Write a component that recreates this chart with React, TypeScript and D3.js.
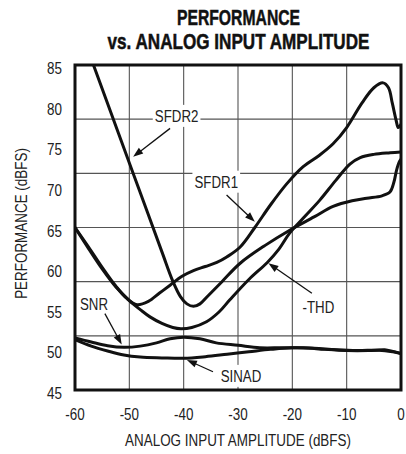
import React from 'react';
import * as d3 from 'd3';

// ---------- data ----------
const ampTicks = [-60, -50, -40, -30, -20, -10, 0];
const perfTicks = [45, 50, 55, 60, 65, 70, 75, 80, 85];

const sfdr1Amp = [-60, -57.5, -55, -52.5, -50.5, -48.6, -46.5, -44.5, -42.5, -40.3, -38.2, -36, -33.9, -32, -29.6, -26.9, -24, -21, -18, -15, -12.5, -10, -7.2, -5, -3.3, -2.3, -1.6, -0.9, -0.5, 0];
const sfdr1Val = [65, 62.6, 60.1, 57.8, 56.3, 55.5, 55.9, 56.9, 57.9, 59.0, 59.7, 60.2, 60.7, 61.4, 62.6, 65.0, 67.8, 70.4, 72.5, 73.9, 75.3, 77.3, 80.3, 82.2, 82.8, 82.2, 80.3, 78.2, 77.3, 77.7];

const sfdr2Amp = [-56.6, -52, -48, -44, -42, -40.6, -39.4, -38.2, -37, -35.5, -33, -29.6, -25, -20.4, -16, -12.5, -9, -6.3, -3.5, -2, -1.3, -0.8, -0.3, 0];
const sfdr2Val = [85, 76.6, 69.3, 62.0, 58.4, 56.5, 55.6, 55.3, 55.6, 56.6, 58.3, 60.6, 62.8, 64.7, 66.3, 67.6, 68.3, 68.6, 68.9, 69.4, 70.6, 72.1, 73.1, 73.4];

const thdAmp = [-60, -57.5, -55, -52.5, -50, -48, -46.2, -44, -42, -40.5, -38.5, -35.8, -33.5, -31.5, -28, -24.6, -22.5, -20.5, -17.5, -14.9, -12, -9.4, -7.5, -5, -2, 0];
const thdVal = [65, 62.4, 59.9, 57.7, 56.0, 54.9, 54.0, 53.2, 52.7, 52.55, 52.7, 53.4, 54.6, 56.1, 58.6, 60.7, 62.3, 64.3, 66.5, 68.4, 70.8, 72.8, 73.6, 74.0, 74.2, 74.3];

const snrAmp = [-60, -57, -54, -51, -48, -45, -42.5, -40, -37, -34, -30, -26, -22, -18, -14, -10, -6, -3, -1.5, 0];
const snrVal = [51.4, 50.9, 50.45, 50.25, 50.4, 50.8, 51.3, 51.5, 51.3, 50.8, 50.5, 50.2, 50.2, 50.2, 50.0, 49.85, 49.85, 49.95, 49.75, 49.5];

const sinadAmp = [-60, -57, -54, -51, -48, -44, -40, -36, -32, -28, -24, -20, -16, -12, -8, -4, -1.5, 0];
const sinadVal = [51.2, 50.4, 49.8, 49.3, 49.05, 48.95, 48.9, 49.1, 49.4, 49.7, 50.0, 50.2, 50.15, 49.95, 49.85, 49.9, 49.7, 49.5];

const seriesNames = ['SFDR1', 'SFDR2', '-THD', 'SNR', 'SINAD'];
const seriesAmps = [sfdr1Amp, sfdr2Amp, thdAmp, snrAmp, sinadAmp];
const seriesVals = [sfdr1Val, sfdr2Val, thdVal, snrVal, sinadVal];

// annotation labels (data units): text anchor point, arrow start, arrow tip
const labelTexts = ['SFDR2', 'SFDR1', 'SNR', 'SINAD', '-THD'];
const labelAmp = [-41.3, -34.0, -56.5, -29.45, -15.2];
const labelVal = [78.0, 69.9, 54.85, 46.0, 54.5];
const arrowFromAmp = [-42.5, -32.1, -54.5, -34.6, -16.4];
const arrowFromVal = [77.2, 69.0, 54.4, 47.25, 56.9];
const arrowToAmp = [-49.3, -26.9, -51.4, -39.4, -24.4];
const arrowToVal = [73.7, 65.7, 50.6, 48.7, 60.6];
const labelHasBg = [true, true, false, true, false];

const titleLines = ['PERFORMANCE', 'vs. ANALOG INPUT AMPLITUDE'];

// ---------- layout ----------
const W = 406;
const H = 454;
const left = 75, right = 401, top = 65, bottom = 390;
const gridDiv = 6;
const FONT = '"Liberation Sans", Arial, Helvetica, sans-serif';
const SX = 0.84;
const titleScale = [0.715, 0.778];
const titleBase = [25, 49];

export default function App() {
  const x = d3.scaleLinear().domain([-60, 0]).range([left, right]);
  const y = d3.scaleLinear().domain([45, 85]).range([bottom, top]);

  const line = d3
    .line<[number, number]>()
    .x((d) => x(d[0]))
    .y((d) => y(d[1]))
    .curve(d3.curveCatmullRom.alpha(0.5));

  const hGrid = d3.range(1, gridDiv).map((i) => top + ((bottom - top) * i) / gridDiv);
  const vGrid = ampTicks.slice(1, -1).map((t) => x(t));

  const textW = (s: string, fs: number) => s.length * fs * 0.5 * SX + 4;

  return (
    <svg
      width={W}
      height={H}
      style={{ position: 'absolute', left: 0, top: 0, background: '#fff' }}
      fontFamily={FONT}
    >
      <defs>
        <clipPath id="plotClip">
          <rect x={left} y={top} width={right - left} height={bottom - top} />
        </clipPath>
      </defs>
      <rect x={0} y={0} width={W} height={H} fill="#fff" />

      {/* title */}
      {titleLines.map((t, i) => (
        <text
          key={'title' + i}
          transform={`translate(238.5,${titleBase[i]}) scale(${titleScale[i]},1)`}
          textAnchor="middle"
          fontSize={22}
          fontWeight="bold"
          fill="#111"
          stroke="#111"
          strokeWidth={0.5}
        >
          {t}
        </text>
      ))}

      {/* grid */}
      {hGrid.map((gy, i) => (
        <line key={'h' + i} x1={left} x2={right} y1={gy} y2={gy} stroke="#555" strokeWidth={1.1} />
      ))}
      {vGrid.map((gx, i) => (
        <line key={'v' + i} x1={gx} x2={gx} y1={top} y2={bottom} stroke="#555" strokeWidth={1.1} />
      ))}

      {/* label backgrounds */}
      {labelTexts.map((t, i) =>
        labelHasBg[i] ? (
          <rect
            key={'bg' + i}
            x={x(labelAmp[i]) - textW(t, 17) / 2 - 4}
            y={y(labelVal[i]) - 17}
            width={textW(t, 17) + 8}
            height={22}
            fill="#fff"
          />
        ) : null
      )}

      {/* curves */}
      <g clipPath="url(#plotClip)">
        {seriesNames.map((n, i) => (
          <path
            key={n}
            d={line(seriesAmps[i].map((a, j) => [a, seriesVals[i][j]] as [number, number])) || ''}
            fill="none"
            stroke="#111"
            strokeWidth={3}
            strokeLinejoin="round"
            strokeLinecap="round"
          />
        ))}
      </g>

      {/* frame */}
      <rect x={left} y={top} width={right - left} height={bottom - top} fill="none" stroke="#111" strokeWidth={3} />

      {/* annotations */}
      {labelTexts.map((t, i) => {
        const x1 = x(arrowFromAmp[i]);
        const y1 = y(arrowFromVal[i]);
        const x2 = x(arrowToAmp[i]);
        const y2 = y(arrowToVal[i]);
        const dx = x2 - x1;
        const dy = y2 - y1;
        const len = Math.sqrt(dx * dx + dy * dy);
        const ux = dx / len;
        const uy = dy / len;
        const hl = 10;
        const hw = 3.6;
        const bx = x2 - ux * hl;
        const by = y2 - uy * hl;
        const pts = `${x2},${y2} ${bx - uy * hw},${by + ux * hw} ${bx + uy * hw},${by - ux * hw}`;
        return (
          <g key={'ann' + i}>
            <line x1={x1} y1={y1} x2={bx + ux * 2} y2={by + uy * 2} stroke="#111" strokeWidth={1.3} />
            <polygon points={pts} fill="#111" />
            <text
              transform={`translate(${x(labelAmp[i])},${y(labelVal[i])}) scale(${SX * 0.93},1)`}
              textAnchor="middle"
              fontSize={17}
              fill="#222"
            >
              {t}
            </text>
          </g>
        );
      })}

      {/* y tick labels */}
      {perfTicks.map((t) => (
        <text
          key={'yt' + t}
          transform={`translate(62,${y(t) + 9}) scale(${SX},1)`}
          textAnchor="end"
          fontSize={16}
          fill="#222"
        >
          {t}
        </text>
      ))}
      {/* x tick labels */}
      {ampTicks.map((t) => (
        <text
          key={'xt' + t}
          transform={`translate(${x(t)},420) scale(${SX},1)`}
          textAnchor="middle"
          fontSize={16}
          fill="#222"
        >
          {t}
        </text>
      ))}

      {/* axis titles */}
      <text
        transform={`translate(${(left + right) / 2},445.5) scale(${SX},1)`}
        textAnchor="middle"
        fontSize={16}
        fill="#222"
      >
        ANALOG INPUT AMPLITUDE (dBFS)
      </text>
      <text
        transform={`translate(27,${(top + bottom) / 2 - 4}) rotate(-90) scale(${SX},1)`}
        textAnchor="middle"
        fontSize={16}
        fill="#222"
      >
        PERFORMANCE (dBFS)
      </text>
    </svg>
  );
}
